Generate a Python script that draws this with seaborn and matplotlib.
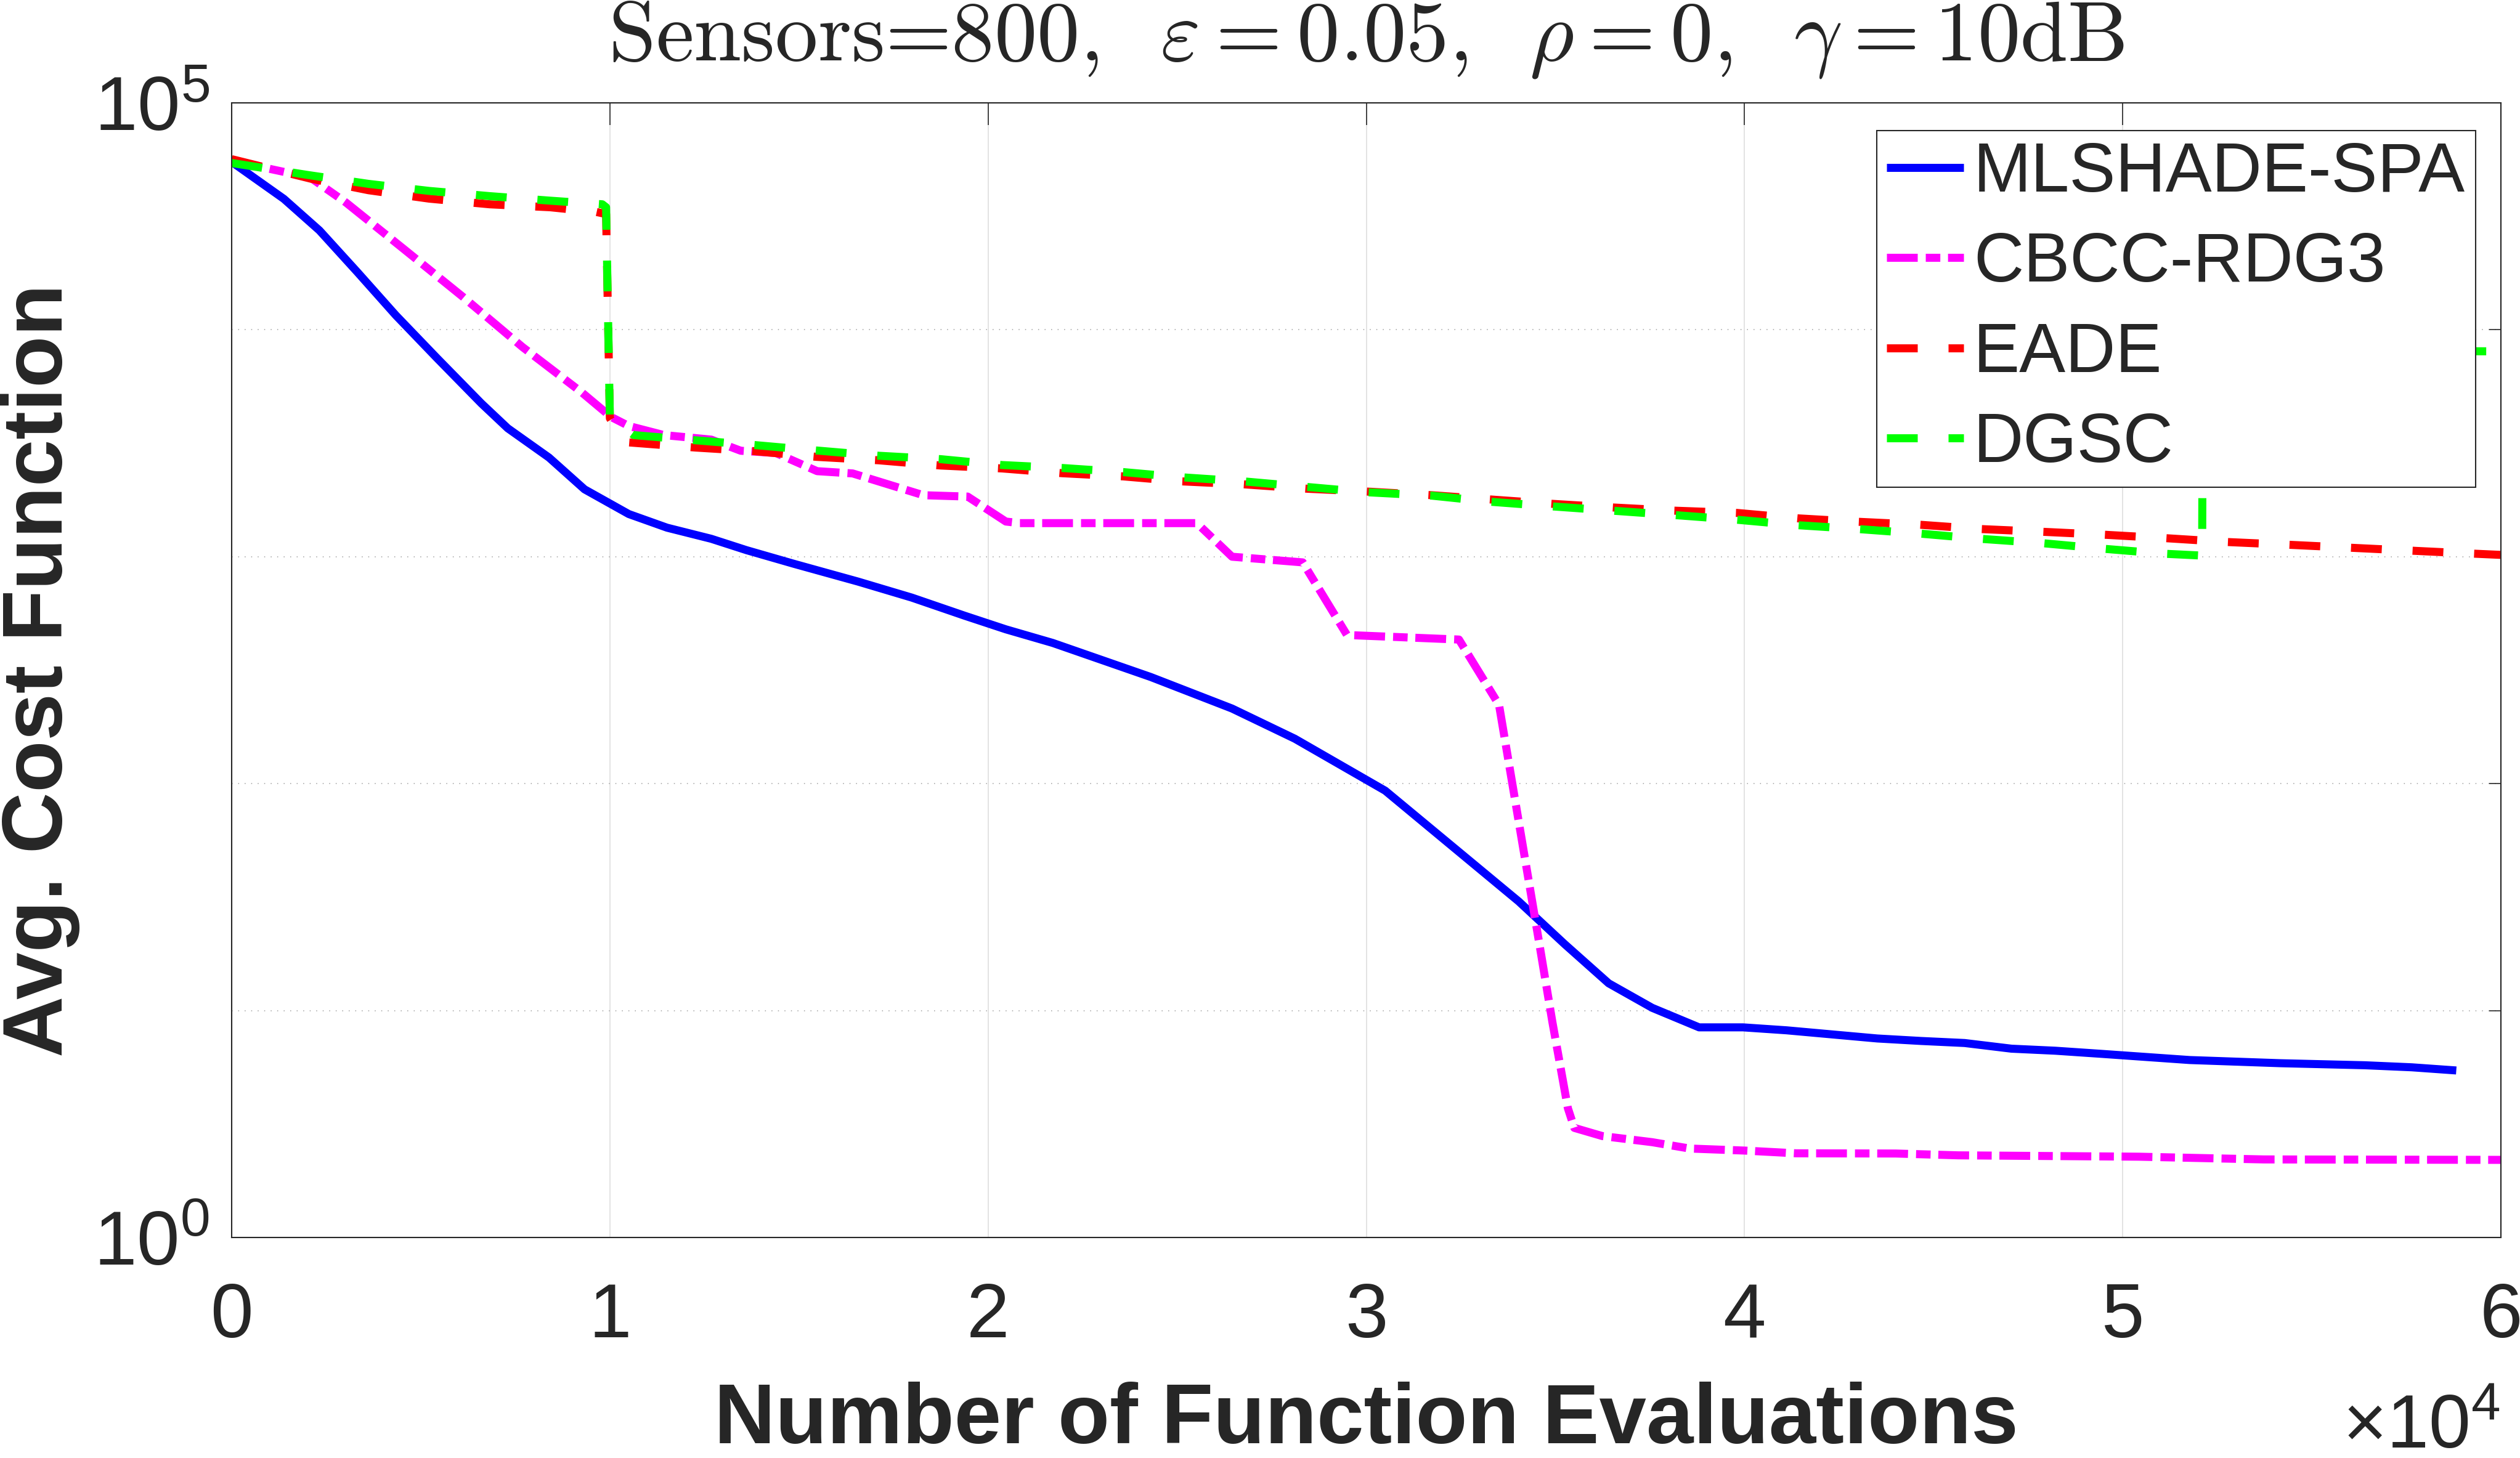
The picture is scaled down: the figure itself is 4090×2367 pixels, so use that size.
import matplotlib
matplotlib.use("Agg")
import matplotlib.pyplot as plt
import numpy as np
import seaborn as sns
from matplotlib.ticker import FixedLocator, FixedFormatter, NullLocator

# values: evaluations, and log10 of avg. cost
mlshade_x = [0, 1380, 2320, 3330, 4340, 5430, 6600, 7300, 8390, 9330, 10500, 11510,
             12680, 13610, 14860, 16570, 17980, 19380, 20470, 21710, 24300, 26450,
             28110, 30500, 34030, 35250, 36410, 37560, 38800, 39960, 41110, 43510,
             44670, 45820, 47060, 48220, 49460, 51770, 54170, 56400, 57640, 58820]
mlshade_log = [4.74, 4.577, 4.438, 4.253, 4.064, 3.875, 3.676, 3.566, 3.437, 3.297,
               3.188, 3.128, 3.079, 3.029, 2.969, 2.89, 2.82, 2.74, 2.68, 2.62, 2.47,
               2.331, 2.198, 1.969, 1.481, 1.292, 1.12, 1.012, 0.926, 0.926, 0.913,
               0.877, 0.866, 0.857, 0.832, 0.823, 0.809, 0.782, 0.768, 0.759, 0.75,
               0.736]

cbcc_x = [0, 2080, 3020, 4580, 6130, 7690, 9250, 10030, 10500, 11430, 12680, 13460,
          14390, 15480, 16420, 18290, 19460, 20470, 20840, 25520, 26450, 28320,
          29490, 32450, 33510, 34600, 34920, 35330, 35500, 36240, 37560, 38550,
          40000, 41360, 44000, 45650, 50430, 53730, 60000]
cbcc_log = [4.745, 4.671, 4.561, 4.352, 4.143, 3.924, 3.725, 3.616, 3.576, 3.536,
            3.516, 3.467, 3.457, 3.377, 3.367, 3.271, 3.265, 3.155, 3.148, 3.148,
            3.0, 2.975, 2.655, 2.635, 2.347, 1.27, 0.95, 0.57, 0.483, 0.447, 0.42,
            0.392, 0.383, 0.371, 0.37, 0.362, 0.356, 0.344, 0.342]

eade_x = [0, 2090, 3620, 5220, 6820, 8420, 9650, 9900, 10000, 10400, 12270, 13830,
          15470, 17100, 18740, 20370, 21960, 23570, 25120, 26760, 28390, 30030,
          31740, 33310, 34920, 36520, 38130, 39800, 41420, 43000, 44630, 46230,
          47860, 49500, 51110, 52730, 54350, 55970, 57590, 59210, 60000]
eade_log = [4.752, 4.666, 4.615, 4.578, 4.553, 4.54, 4.519, 4.51, 3.61, 3.505, 3.481,
            3.465, 3.44, 3.425, 3.402, 3.389, 3.368, 3.354, 3.332, 3.319, 3.30, 3.287,
            3.271, 3.252, 3.233, 3.217, 3.203, 3.193, 3.169, 3.154, 3.141, 3.122,
            3.11, 3.097, 3.082, 3.065, 3.053, 3.04, 3.027, 3.014, 3.008]

dgsc_x = [0, 2020, 3620, 5220, 6820, 8420, 9800, 9900, 10000, 10630, 12270, 13830,
          15470, 17100, 18740, 20370, 21960, 23570, 25120, 26760, 28390, 30030,
          31740, 33300, 34900, 36500, 38200, 39800, 41400, 43000, 44630, 46230,
          47860, 49500, 51110, 52100, 52120, 60000]
dgsc_log = [4.735, 4.682, 4.643, 4.612, 4.589, 4.569, 4.553, 4.54, 3.61, 3.536, 3.513,
            3.492, 3.468, 3.445, 3.43, 3.404, 3.391, 3.373, 3.35, 3.332, 3.308, 3.284,
            3.269, 3.242, 3.222, 3.203, 3.183, 3.163, 3.139, 3.122, 3.102, 3.079,
            3.06, 3.035, 3.013, 3.005, 3.91, 3.905]

x_ticks = [0, 10000, 20000, 30000, 40000, 50000, 60000]
x_tick_labels = ["0", "1", "2", "3", "4", "5", "6"]
y_ticks = [1, 10, 100, 1000, 10000, 100000]
y_tick_labels = [r"$\mathregular{10^{0}}$", "", "", "", "", r"$\mathregular{10^{5}}$"]

series = [
    ("MLSHADE-SPA", mlshade_x, mlshade_log, (0, 0, 1), "-"),
    ("CBCC-RDG3", cbcc_x, cbcc_log, (1, 0, 1), (0, (36, 9.4, 17, 9))),
    ("EADE", eade_x, eade_log, (1, 0, 0), (0, (36, 36))),
    ("DGSC", dgsc_x, dgsc_log, (0, 1, 0), (0, (36, 36))),
]

sns.set_style("white")
plt.rcParams["font.family"] = ["Liberation Sans", "DejaVu Sans"]
plt.rcParams["mathtext.fontset"] = "cm"
plt.rcParams["lines.scale_dashes"] = False

W, H = 4090, 2367
fig = plt.figure(figsize=(W / 100, H / 100), dpi=100)
ax = fig.add_axes([376 / W, 1 - 2009 / H, 3683 / W, 1842 / H])

for name, xs, logs, col, ls in series:
    ys = 10.0 ** np.array(logs)
    sns.lineplot(x=xs, y=ys, ax=ax, estimator=None, sort=False, color=col,
                 linewidth=9.4, linestyle=ls, label=name,
                 solid_capstyle="butt", dash_capstyle="butt")

ax.set_yscale("log")
ax.set_xlim(0, 60000)
ax.set_ylim(1, 1e5)
ax.xaxis.set_major_locator(FixedLocator(x_ticks))
ax.xaxis.set_major_formatter(FixedFormatter(x_tick_labels))
ax.yaxis.set_major_locator(FixedLocator(y_ticks))
ax.yaxis.set_major_formatter(FixedFormatter(y_tick_labels))
ax.yaxis.set_minor_locator(NullLocator())
ax.set_xlabel("")
ax.set_ylabel("")

ax.set_axisbelow(True)
ax.xaxis.grid(True, color="0.86", linewidth=1.1, linestyle="-")
ax.yaxis.grid(True, color="0.68", linewidth=1.3, linestyle=(0, (1.1, 6.5)))

for sp in ax.spines.values():
    sp.set_color("0.15")
    sp.set_linewidth(1.5)
ax.tick_params(axis="both", direction="in", top=True, right=True, colors="0.15",
               width=1.2, labelsize=90, labelcolor="0.15")
ax.tick_params(axis="x", length=26, pad=52)
ax.tick_params(axis="y", length=14, pad=26)

leg = ax.legend(loc="upper right", bbox_to_anchor=(1 - 41 / 3683, 1 - 45 / 1842),
                borderaxespad=0, fontsize=81, frameon=True, fancybox=False,
                framealpha=1, edgecolor="0.15", handlelength=1.11,
                handletextpad=0.14, borderpad=0.15, labelspacing=0.36)
leg.get_frame().set_linewidth(1.5)

fig.text(0.5 * (376 + 4059) / W, 1 - 98 / H,
         r"Sensors=800,  $\varepsilon = 0.05$,  $\rho = 0$,  $\gamma = 10$dB",
         fontfamily="cmr10", fontsize=100, ha="center", va="baseline")
fig.text(0.5 * (376 + 4059) / W, 1 - 2343 / H, "Number of Function Evaluations",
         fontsize=99, fontweight="bold", color="0.15", ha="center", va="baseline")
fig.text(1 / W, 1 - 1088 / H, "Avg. Cost Function", fontsize=99,
         fontweight="bold", color="0.15", rotation=90, ha="left", va="center")
fig.text(4058 / W, 1 - 2350 / H, r"×$\mathregular{10^{4}}$", fontsize=88,
         color="0.15", ha="right", va="baseline")

fig.savefig("out.png", dpi=100)
print("Done: out.png")
